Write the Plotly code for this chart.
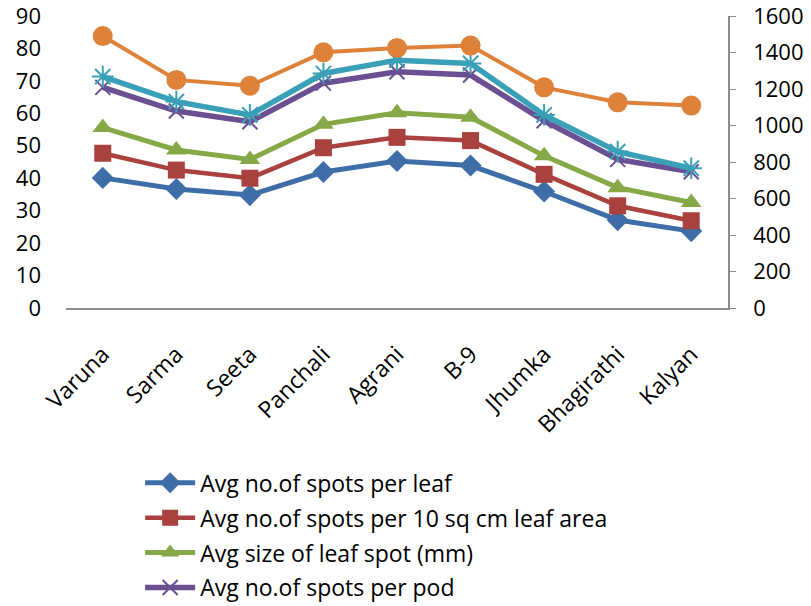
import plotly.graph_objects as go

# Mustard varieties
varieties = ["Varuna", "Sarma", "Seeta", "Panchali", "Agrani", "B-9",
             "Jhumka", "Bhagirathi", "Kalyan"]

# Left-axis series
spots_per_leaf = [40.1, 36.7, 34.8, 41.9, 45.3, 43.9, 35.9, 27.1, 23.7]
spots_per_10sqcm = [47.7, 42.5, 40.0, 49.4, 52.6, 51.6, 41.2, 31.5, 26.9]
leaf_spot_size = [55.6, 48.7, 45.8, 56.6, 60.2, 58.8, 46.9, 37.1, 32.5]
spots_per_pod = [68.0, 60.7, 57.4, 69.3, 72.8, 71.8, 57.7, 45.8, 42.0]

# Right-axis series
series_5 = [1268, 1131, 1058, 1285, 1358, 1340, 1058, 857, 766]
series_6 = [1490, 1250, 1218, 1401, 1425, 1438, 1209, 1127, 1109]

left_ticks = list(range(0, 91, 10))
right_ticks = list(range(0, 1601, 200))

FONT = "Open Sans"
FS = 23      # legend and category labels
FS_NUM = 22  # numeric tick labels

fig = go.Figure()

def add_line(y, name, color, symbol, size, width, axis="y", legend=True,
             mline=0, mcolor=None):
    fig.add_trace(go.Scatter(
        x=varieties, y=y, name=name, mode="lines+markers", yaxis=axis,
        showlegend=legend, legendgroup=name,
        line=dict(color=color, width=width),
        marker=dict(symbol=symbol, size=size, color=mcolor or color,
                    line=dict(width=mline, color=color)),
        cliponaxis=False,
    ))

add_line(spots_per_leaf, "Avg no.of spots per leaf", "#3F6DA8", "diamond", 17, 5)
add_line(spots_per_10sqcm, "Avg no.of spots per 10 sq cm leaf area", "#A9413E", "square", 17, 4.5)
add_line(leaf_spot_size, "Avg size of leaf spot (mm)", "#86A846", "triangle-up", 18, 5)
add_line(spots_per_pod, "Avg no.of spots per pod", "#6A4F93", "x-thin-open", 15, 5.5,
         mline=2)
add_line(series_5, "series 5", "#3AA0B8", "asterisk-open", 18, 5.5, axis="y2",
         legend=False, mline=2)
add_line(series_6, "series 6", "#DE823A", "circle", 20, 4, axis="y2",
         legend=False)

fig.update_layout(
    width=811, height=606,
    margin=dict(l=66, r=83, t=16, b=298, autoexpand=False),
    paper_bgcolor="white", plot_bgcolor="white",
    font=dict(family=FONT, size=FS, color="#000000"),
    showlegend=True,
    legend=dict(
        x=0.112, y=-0.525, xanchor="left", yanchor="top",
        font=dict(family=FONT, size=FS, color="#000000"),
        tracegroupgap=2, itemwidth=50, bgcolor="rgba(0,0,0,0)",
    ),
    xaxis=dict(
        type="category", tickangle=-45, showgrid=False,
        showline=True, linecolor="#8C8C8C", linewidth=1.5,
        ticks="", tickfont=dict(family=FONT, size=FS),
        ticklabelstandoff=22,
        range=[-0.5, 8.5],
    ),
    yaxis=dict(
        range=[0, 90], tickvals=left_ticks, showgrid=False, zeroline=False,
        showline=False, ticks="", tickfont=dict(family=FONT, size=FS_NUM),
        ticklabelstandoff=24, ticklabeloverflow="allow",
    ),
    yaxis2=dict(
        range=[0, 1600], tickvals=right_ticks, overlaying="y", side="right",
        showgrid=False, zeroline=False, showline=True, linecolor="#8C8C8C",
        linewidth=1.5, ticks="outside", ticklen=6, tickcolor="#8C8C8C",
        tickfont=dict(family=FONT, size=FS_NUM), ticklabelstandoff=13,
        ticklabeloverflow="allow",
    ),
)

fig.write_html("out.html")
